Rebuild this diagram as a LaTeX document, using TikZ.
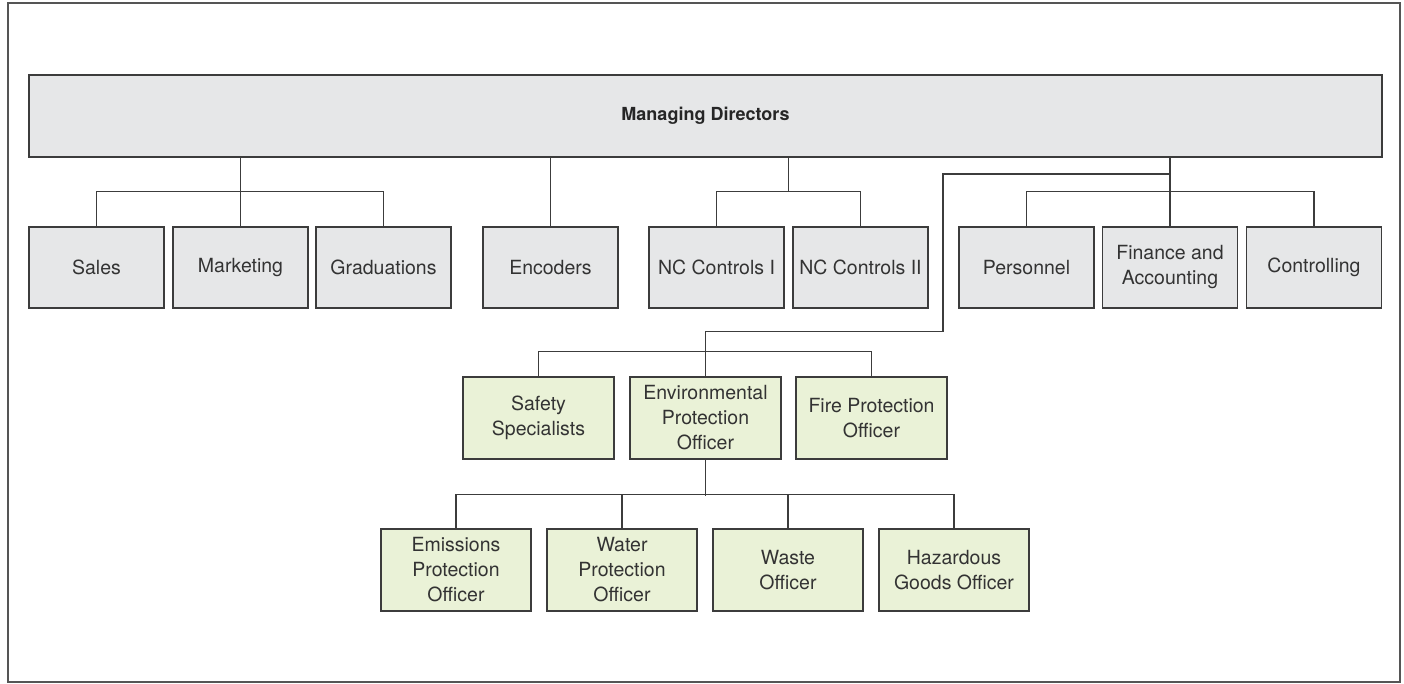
\documentclass[tikz,border=0pt]{standalone}
\usepackage{fontspec}
\setmainfont{TeX Gyre Heros}
\usetikzlibrary{calc}
\definecolor{boxgray}{HTML}{E6E7E8}
\definecolor{boxgreen}{HTML}{EAF2D7}
\definecolor{linegray}{HTML}{3C3C3C}
\definecolor{textgray}{HTML}{333333}
\definecolor{framegray}{HTML}{555555}
\tikzset{
  unit/.style={draw=linegray, line width=1.1pt, fill=boxgray, minimum width=135pt, minimum height=81pt,
    inner sep=0pt, align=center, text=textgray, font=\fontsize{19.5}{25}\selectfont},
  staff/.style={unit, fill=boxgreen, minimum width=151pt, minimum height=82pt},
  subunit/.style={unit, fill=boxgreen, minimum width=150pt, minimum height=82pt},
  link/.style={draw=linegray, line width=1.1pt},
}
\begin{document}
\begin{tikzpicture}[x=1pt,y=-1pt]
\useasboundingbox (0,0) rectangle (1404,683);
\draw[framegray, line width=1.6pt] (8,3) rectangle (1400,682);

\node[unit, minimum width=1353pt, minimum height=82pt, font=\fontsize{18}{22}\selectfont\bfseries, text=black!85] (top) at (705.5,116) {Managing Directors};

\node[unit] (sales) at (96.5,267.5) {Sales};
\node[unit] (mkt) at (240.5,267.5) {Marketing};
\node[unit] (grad) at (383.5,267.5) {Graduations};
\node[unit] (enc) at (550.5,267.5) {Encoders};
\node[unit] (nc1) at (716.5,267.5) {NC Controls I};
\node[unit] (nc2) at (860.5,267.5) {NC Controls II};
\node[unit] (pers) at (1026.5,267.5) {Personnel};
\node[unit] (fin) at (1170,267.5) {Finance and\\Accounting};
\node[unit] (ctrl) at (1314,267.5) {Controlling};

\node[staff] (safe) at (538.5,418) {Safety\\Specialists};
\node[staff] (env) at (705.5,418) {Environmental\\Protection\\Officer};
\node[staff] (fire) at (871.5,418) {Fire Protection\\Officer};

\node[subunit] (emis) at (456,570) {Emissions\\Protection\\Officer};
\node[subunit] (wat) at (622,570) {Water\\Protection\\Officer};
\node[subunit] (wst) at (788,570) {Waste\\Officer};
\node[subunit] (haz) at (954,570) {Hazardous\\Goods Officer};

% left group
\draw[link] (top.south -| mkt.north) -- (mkt.north);
\draw[link] (sales.north) -- ++(0,-35) -| (grad.north);
% encoders
\draw[link] (top.south -| enc.north) -- (enc.north);
% NC group
\coordinate (ncj) at ($(nc1.north)!0.5!(nc2.north)+(0,-35)$);
\draw[link] (top.south -| ncj) -- (ncj);
\draw[link] (nc1.north) -- ++(0,-35) -| (nc2.north);
% right group
\draw[link] (top.south -| fin.north) -- (fin.north);
\draw[link] (pers.north) -- ++(0,-35) -| (ctrl.north);
% staff line
\coordinate (bend) at (943,174);
\draw[link] (fin.north |- bend) -- (bend) |- ($(env.north)+(0,-45)$) -- (env.north);
\draw[link] (safe.north) -- ++(0,-25) -| (fire.north);
% sub units
\draw[link] (env.south) -- ++(0,36);
\draw[link] (emis.north) -- ++(0,-34) -| (haz.north);
\draw[link] (wat.north) -- ++(0,-34);
\draw[link] (wst.north) -- ++(0,-34);
\end{tikzpicture}
\end{document}
